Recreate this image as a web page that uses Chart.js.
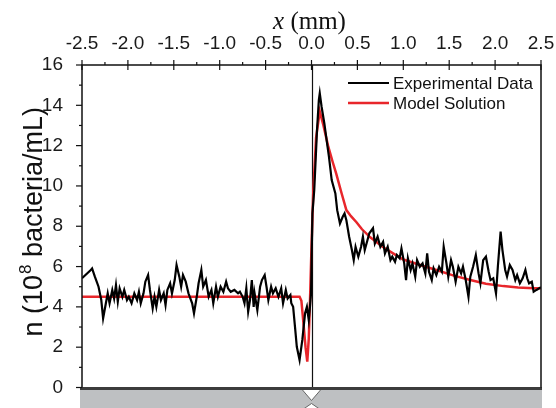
<!DOCTYPE html>
<html>
<head>
<meta charset="utf-8">
<script src="https://cdn.jsdelivr.net/npm/chart.js@4/dist/chart.umd.min.js"></script>
<style>
  html, body { margin: 0; padding: 0; background: #fff; }
  #wrap { width: 556px; height: 408px; }
</style>
</head>
<body>
<div id="wrap"><canvas id="chart" width="556" height="408"></canvas></div>
<script>
// experimental profile
const expX = [
  -2.50, -2.41, -2.39, -2.36, -2.34, -2.32, -2.29, -2.27, -2.24, -2.22, -2.20, -2.17, -2.15, -2.13, -2.11, -2.09,
  -2.06, -2.04, -2.01, -1.99, -1.96, -1.93, -1.90, -1.88, -1.86, -1.83, -1.81, -1.78, -1.76, -1.73, -1.71, -1.69,
  -1.66, -1.64, -1.61, -1.59, -1.57, -1.54, -1.52, -1.49, -1.47, -1.44, -1.42, -1.40, -1.37, -1.34,
  -1.30, -1.28, -1.25, -1.23, -1.20, -1.18, -1.15, -1.12, -1.09, -1.07, -1.04, -1.02, -0.99, -0.96, -0.93, -0.91,
  -0.88, -0.84, -0.80, -0.78, -0.75, -0.73, -0.71, -0.69, -0.67, -0.65, -0.63, -0.62, -0.59, -0.56, -0.54, -0.51,
  -0.49, -0.47, -0.44, -0.42, -0.39, -0.36, -0.33, -0.31, -0.28, -0.26, -0.23, -0.22, -0.20, -0.18, -0.16, -0.13,
  -0.10, -0.07, -0.05, -0.03, -0.02, -0.005, 0.01, 0.03, 0.06, 0.08, 0.09, 0.11, 0.14, 0.17, 0.19, 0.22,
  0.26, 0.28, 0.31, 0.34, 0.36, 0.38, 0.41, 0.44, 0.46, 0.48, 0.51, 0.54, 0.56, 0.58, 0.61, 0.63,
  0.67, 0.69, 0.72, 0.75, 0.78, 0.80, 0.83, 0.86, 0.88, 0.91, 0.93, 0.96, 0.98, 1.01, 1.03, 1.05,
  1.08, 1.10, 1.13, 1.15, 1.18, 1.21, 1.24, 1.26, 1.28, 1.31, 1.33, 1.36, 1.39, 1.42, 1.44, 1.47,
  1.49, 1.52, 1.54, 1.57, 1.60, 1.63, 1.65, 1.68, 1.71, 1.73, 1.76, 1.79, 1.82, 1.84, 1.87, 1.90,
  1.93, 1.95, 1.98, 2.01, 2.03, 2.06, 2.08, 2.11, 2.13, 2.16, 2.19, 2.22, 2.24, 2.27, 2.30, 2.33,
  2.35, 2.37, 2.40, 2.42, 2.45, 2.50
];
const expY = [
  5.42, 5.80, 5.91, 5.50, 5.25, 5.00, 4.34, 3.43, 4.18, 4.67, 4.18, 4.84, 4.42, 5.08, 4.26, 4.92,
  4.50, 4.84, 4.34, 4.50, 4.18, 4.67, 4.34, 4.75, 4.18, 4.67, 5.25, 5.58, 4.84, 3.93, 4.50, 4.00,
  4.84, 4.34, 4.67, 4.09, 4.84, 5.17, 4.67, 5.33, 6.08, 5.50, 5.00, 5.58, 5.25, 4.67,
  4.18, 3.68, 4.50, 5.17, 5.83, 5.00, 5.33, 4.50, 4.84, 4.18, 5.00, 4.50, 5.00, 4.75, 5.25, 4.92,
  4.75, 4.84, 4.67, 4.75, 4.50, 4.18, 4.92, 3.76, 4.34, 5.33, 4.00, 4.67, 3.84, 5.00, 5.33, 5.58,
  5.00, 4.34, 5.00, 4.67, 4.92, 4.50, 4.92, 4.18, 4.84, 4.42, 4.59, 4.18, 4.00, 3.02, 2.02, 1.36,
  2.36, 3.68, 4.00, 3.35, 3.84, 4.67, 8.64, 9.80, 12.77, 14.26, 14.60, 13.93, 13.10, 12.10, 11.45, 10.29,
  9.63, 8.80, 8.14, 8.47, 8.64, 8.30, 7.48, 6.82, 6.32, 6.98, 6.49, 6.98, 7.48, 6.82, 7.32, 7.65,
  7.90, 7.15, 7.48, 6.98, 7.23, 6.65, 6.98, 6.32, 6.49, 6.24, 6.57, 6.41, 6.90, 6.16, 5.33, 6.41,
  5.83, 6.16, 5.50, 6.32, 5.99, 6.16, 5.66, 6.65, 5.74, 5.33, 5.91, 5.58, 5.99, 5.74, 6.98, 6.16,
  5.50, 6.32, 5.99, 5.25, 5.99, 5.66, 5.99, 5.33, 4.50, 5.50, 5.99, 6.57, 5.66, 5.17, 6.32, 6.49,
  5.74, 5.33, 5.42, 4.67, 5.99, 7.73, 6.82, 5.83, 5.50, 6.08, 5.83, 5.33, 5.58, 5.17, 5.42, 5.83,
  5.42, 5.17, 5.25, 4.75, 4.84, 4.97
];

// model solution
const modelX = [
  -2.50, -0.13, -0.11, -0.09, -0.065, -0.046, -0.03, -0.015, 0.00, 0.02, 0.05, 0.09, 0.13, 0.18, 0.23, 0.27,
  0.33, 0.38, 0.43, 0.49, 0.55, 0.64, 0.80, 1.00, 1.20, 1.36, 1.55, 1.73, 1.90, 2.09, 2.25, 2.42, 2.50
];
const modelY = [
  4.50, 4.50, 4.30, 3.30, 2.00, 1.28, 2.40, 4.50, 7.00, 9.80, 12.40, 13.70, 13.00, 12.00, 11.20, 10.60,
  9.60, 8.80, 8.50, 8.20, 7.85, 7.45, 6.90, 6.35, 6.05, 5.83, 5.55, 5.33, 5.15, 5.03, 4.96, 4.93, 4.93
];

const xTicks = [-2.5, -2.0, -1.5, -1.0, -0.5, 0.0, 0.5, 1.0, 1.5, 2.0, 2.5];
const yTicks = [0, 2, 4, 6, 8, 10, 12, 14, 16];

const SANS = "'Liberation Sans', Arial, sans-serif";
const SERIF = "'Liberation Serif', 'Times New Roman', serif";

const toPoints = (xs, ys) => xs.map((x, i) => ({ x: x, y: ys[i] }));

const decorPlugin = {
  id: 'decor',
  beforeDatasetsDraw(chart) {
    const { ctx, chartArea: a, scales } = chart;
    // vertical line at x = 0
    const x0 = Math.round(scales.x.getPixelForValue(0)) + 0.5;
    ctx.save();
    ctx.strokeStyle = '#111';
    ctx.lineWidth = 1.2;
    ctx.beginPath();
    ctx.moveTo(x0, a.top);
    ctx.lineTo(x0, a.bottom + 1);
    ctx.stroke();
    ctx.restore();
  },
  afterDraw(chart) {
    const { ctx, chartArea: a, scales } = chart;
    const xs = scales.x, ys = scales.y;
    ctx.save();

    // channel strip below the plot
    ctx.fillStyle = '#bec0c2';
    ctx.fillRect(a.left - 2, a.bottom + 2, a.right - a.left + 3, chart.height - a.bottom - 2);
    ctx.strokeStyle = '#3c3c3c';
    ctx.lineWidth = 3;
    ctx.beginPath();
    ctx.moveTo(a.left - 2, a.bottom + 1);
    ctx.lineTo(a.right + 1, a.bottom + 1);
    ctx.stroke();

    const xc = xs.getPixelForValue(0);
    ctx.fillStyle = '#fff';
    ctx.strokeStyle = '#666';
    ctx.lineWidth = 1;
    ctx.beginPath();
    ctx.moveTo(xc - 9, a.bottom + 2.5);
    ctx.lineTo(xc + 9, a.bottom + 2.5);
    ctx.lineTo(xc, a.bottom + 13);
    ctx.closePath();
    ctx.fill();
    ctx.beginPath();
    ctx.moveTo(xc - 9, a.bottom + 2.5);
    ctx.lineTo(xc, a.bottom + 13);
    ctx.lineTo(xc + 9, a.bottom + 2.5);
    ctx.stroke();
    ctx.beginPath();
    ctx.moveTo(xc - 8, chart.height + 1);
    ctx.lineTo(xc, a.bottom + 16);
    ctx.lineTo(xc + 8, chart.height + 1);
    ctx.closePath();
    ctx.fill();
    ctx.stroke();

    // frame
    ctx.strokeStyle = '#111';
    ctx.lineWidth = 1.5;
    ctx.beginPath();
    ctx.moveTo(a.left, a.bottom);
    ctx.lineTo(a.left, a.top);
    ctx.lineTo(a.right, a.top);
    ctx.lineTo(a.right, a.bottom);
    ctx.stroke();

    // ticks on the left axis
    ctx.lineWidth = 1.2;
    for (let v = 0; v <= 16; v++) {
      const py = ys.getPixelForValue(v);
      const len = v % 2 === 0 ? 6 : 3;
      ctx.beginPath();
      ctx.moveTo(a.left - len, py);
      ctx.lineTo(a.left, py);
      ctx.stroke();
    }
    // ticks on the top axis
    for (let v = -2.5; v <= 2.5001; v += 0.25) {
      const px = xs.getPixelForValue(v);
      const major = Math.abs(v * 2 - Math.round(v * 2)) < 1e-6;
      ctx.beginPath();
      if (major) {
        ctx.moveTo(px, a.top - 5);
        ctx.lineTo(px, a.top + 5);
      } else {
        ctx.moveTo(px, a.top - 3);
        ctx.lineTo(px, a.top);
      }
      ctx.stroke();
    }

    // axis titles
    ctx.fillStyle = '#111';
    ctx.textBaseline = 'alphabetic';
    ctx.font = 'italic 25px ' + SERIF;
    const t1 = 'x', t2 = ' (mm)';
    const w1 = ctx.measureText(t1).width;
    ctx.font = '25px ' + SERIF;
    const w2 = ctx.measureText(t2).width;
    const tx = xc - (w1 + w2) / 2 - 2;
    ctx.font = 'italic 25px ' + SERIF;
    ctx.fillText(t1, tx, 29);
    ctx.font = '25px ' + SERIF;
    ctx.fillText(t2, tx + w1, 29);

    ctx.save();
    ctx.translate(42, (a.top + a.bottom) / 2 - 4);
    ctx.rotate(-Math.PI / 2);
    const big = '27px ' + SANS, small = '17px ' + SANS;
    const p1 = 'n (10', p2 = '8', p3 = ' bacteria/mL)';
    ctx.font = big;
    const q1 = ctx.measureText(p1).width, q3 = ctx.measureText(p3).width;
    ctx.font = small;
    const q2 = ctx.measureText(p2).width;
    let sx = -(q1 + q2 + q3) / 2;
    ctx.font = big;
    ctx.fillText(p1, sx, 0);
    ctx.font = small;
    ctx.fillText(p2, sx + q1 + 1, -11);
    ctx.font = big;
    ctx.fillText(p3, sx + q1 + q2 + 1, 0);
    ctx.restore();

    // legend
    ctx.font = '17px ' + SANS;
    ctx.textBaseline = 'middle';
    chart.data.datasets.forEach((ds, i) => {
      const ly = 83 + i * 20;
      ctx.strokeStyle = ds.borderColor;
      ctx.lineWidth = ds.borderWidth;
      ctx.beginPath();
      ctx.moveTo(348, ly);
      ctx.lineTo(389, ly);
      ctx.stroke();
      ctx.fillStyle = '#111';
      ctx.fillText(ds.label, 393, ly + 1);
    });
    ctx.restore();
  }
};

new Chart(document.getElementById('chart'), {
  type: 'scatter',
  data: {
    datasets: [
      {
        label: 'Experimental Data',
        data: toPoints(expX, expY),
        showLine: true,
        borderColor: '#000',
        borderWidth: 2.2,
        pointRadius: 0,
        tension: 0,
      },
      {
        label: 'Model Solution',
        data: toPoints(modelX, modelY),
        showLine: true,
        borderColor: '#e8262b',
        borderWidth: 2.5,
        pointRadius: 0,
        tension: 0,
      },
    ],
  },
  options: {
    responsive: false,
    animation: false,
    devicePixelRatio: 1,
    layout: { padding: { left: 0, right: 15, top: 0, bottom: 20.5 } },
    plugins: { legend: { display: false }, tooltip: { enabled: false } },
    scales: {
      x: {
        type: 'linear',
        position: 'top',
        min: -2.5,
        max: 2.5,
        afterBuildTicks: (scale) => { scale.ticks = xTicks.map((v) => ({ value: v })); },
        afterFit: (scale) => {
          scale.height = 65;
          scale.paddingLeft = 0;
          scale.paddingRight = 0;
        },
        grid: { display: false },
        border: { display: false },
        ticks: {
          color: '#1a1a1a',
          font: { family: SANS, size: 19 },
          padding: 2,
          maxRotation: 0,
          callback: (v) => v.toFixed(1),
        },
      },
      y: {
        min: 0,
        max: 16,
        afterBuildTicks: (scale) => { scale.ticks = yTicks.map((v) => ({ value: v })); },
        afterFit: (scale) => {
          scale.width = 82;
          scale.paddingTop = 0;
          scale.paddingBottom = 0;
        },
        grid: { display: false },
        border: { display: false },
        ticks: {
          color: '#1a1a1a',
          font: { family: SANS, size: 19 },
          padding: 11,
        },
      },
    },
  },
  plugins: [decorPlugin],
});
</script>
</body>
</html>
